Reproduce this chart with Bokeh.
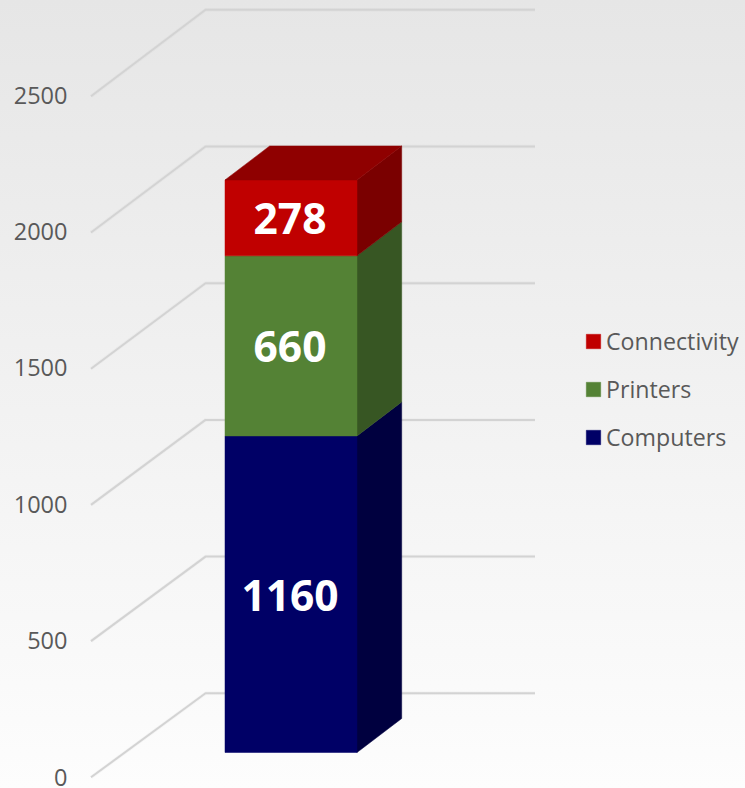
from bokeh.plotting import figure
from bokeh.models import Range1d, Legend, LegendItem, FixedTicker
from bokeh.core.properties import value
from bokeh.embed import file_html
from bokeh.resources import INLINE

series_names = ["Computers", "Printers", "Connectivity"]
series_values = [1160, 660, 278]
tick_values = [0, 500, 1000, 1500, 2000, 2500]

front_colors = ["#000066", "#548235", "#C00000"]
side_colors = ["#00003F", "#375623", "#7A0000"]
top_color = "#8F0000"
grid_color = "#D3D3D3"
text_color = "#595959"

W, H = 745, 788
FRAME_LEFT = 78
PX = 0.2729               # pixels per value unit
Y_ZERO = 776.8            # pixel row of value 0 on the front wall
u = 1 / PX                # value units per pixel

p = figure(width=W, height=H, output_backend="svg", toolbar_location=None,
           x_range=Range1d(FRAME_LEFT, W),
           y_range=Range1d((Y_ZERO - H) * u, Y_ZERO * u),
           min_border_left=FRAME_LEFT, min_border_right=0, min_border_top=0, min_border_bottom=0,
           outline_line_color=None, background_fill_color=None, border_fill_color=None)
p.styles = {"position": "absolute", "left": "0", "top": "0",
            "background": "linear-gradient(180deg, #E6E6E6 0%, #FDFDFD 100%)"}
p.xaxis.visible = False
p.xgrid.visible = False
p.ygrid.visible = False

ax = p.yaxis[0]
ax.ticker = FixedTicker(ticks=tick_values)
ax.axis_line_color = None
ax.major_tick_line_color = None
ax.minor_tick_line_color = None
ax.major_label_text_color = text_color
ax.major_label_text_font = "Open Sans"
ax.major_label_text_font_size = "23.5px"
ax.major_label_standoff = 5

# wall grid lines (perspective: slightly different spacing on the two edges)
wall_x0, wall_x1, wall_x2 = 90.5, 205, 534.5
wall_dy = 84 * u
front_scale = 136.2 / 136.45
back_scale = 136.7 / 136.45
xs, ys = [], []
for t in tick_values:
    yb = t * back_scale + wall_dy
    xs.append([wall_x0, wall_x1, wall_x2])
    ys.append([t * front_scale, yb, yb])
p.multi_line(xs, ys, line_color="#BDBDBD", line_width=3.5, line_alpha=0.1)
p.multi_line(xs, ys, line_color=grid_color, line_width=2)

# stacked prism
bx0, bx1 = 224.5, 356.5
depth_x, depth_y = 44.7, 34 * u
base = 24.8 * u
cum = 0
legend_items = {}
for name, v, fc, sc in zip(series_names, series_values, front_colors, side_colors):
    y0, y1 = base + cum, base + cum + v
    p.patch([bx1, bx1 + depth_x, bx1 + depth_x, bx1],
            [y0, y0 + depth_y, y1 + depth_y, y1], fill_color=sc, line_color=sc, line_width=0.5)
    r = p.quad(left=[bx0], right=[bx1], bottom=[y0], top=[y1], fill_color=fc, line_color=fc, line_width=0.5)
    legend_items[name] = r
    cum += v
top = base + cum
p.patch([bx0, bx0 + depth_x, bx1 + depth_x, bx1],
        [top, top + depth_y, top + depth_y, top], fill_color=top_color, line_color=top_color, line_width=0.5)

# data labels
cum = 0
lx, ly, lt = [], [], []
for v in series_values:
    lx.append((bx0 + bx1) / 2)
    ly.append(base + cum + v / 2)
    lt.append(str(v))
    cum += v
p.text(x=lx, y=ly, text=lt, text_color="#FFFFFF", text_font=value("Open Sans"),
       text_font_style="bold", text_font_size="42.5px", text_align="center", text_baseline="middle",
       x_offset=-1, y_offset=1)

legend = Legend(items=[LegendItem(label=n, renderers=[legend_items[n]]) for n in reversed(series_names)],
                location=(584 - FRAME_LEFT, 335), orientation="vertical",
                glyph_width=18, glyph_height=18, label_standoff=4, spacing=16, padding=0, margin=0,
                label_height=15, label_text_font="Open Sans", label_text_font_size="23.2px",
                label_text_color=text_color, border_line_color=None, background_fill_color=None,
                background_fill_alpha=0)
p.add_layout(legend, "center")

open("out.html", "w").write(file_html(p, INLINE))
